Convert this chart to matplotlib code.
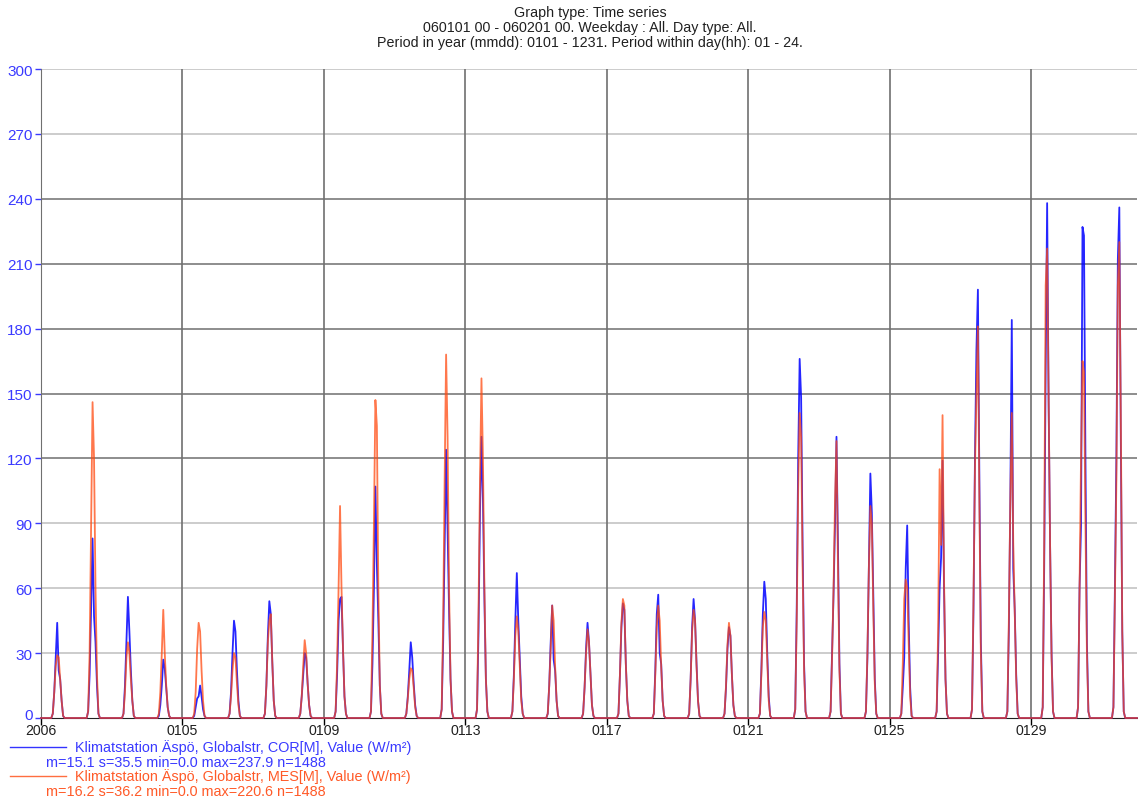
import numpy as np
import matplotlib
matplotlib.use('Agg')
import matplotlib.pyplot as plt
import matplotlib.transforms as mtransforms
from matplotlib.lines import Line2D

plt.rcParams['font.family'] = ['Liberation Sans', 'DejaVu Sans']

# ------------------------------------------------------------
# Data: hourly values for hours 08..15 of each day (night = 0)
# ------------------------------------------------------------
day_hours = [8, 9, 10, 11, 12, 13, 14, 15]

cor_day = [
    [2, 12, 28, 44, 22, 18, 8, 1],
    [3, 20, 50, 83, 47, 35, 15, 2],
    [2, 15, 35, 56, 40, 22, 8, 1],
    [1, 6, 15, 27, 23, 14, 5, 1],
    [1, 5, 9, 10, 15, 10, 4, 1],
    [2, 12, 30, 45, 40, 22, 8, 1],
    [2, 15, 38, 54, 48, 26, 8, 1],
    [2, 10, 20, 30, 28, 16, 6, 1],
    [3, 20, 45, 55, 56, 32, 10, 2],
    [3, 25, 60, 107, 71, 45, 15, 2],
    [2, 10, 22, 35, 28, 16, 6, 1],
    [4, 35, 80, 124, 87, 50, 18, 3],
    [4, 40, 95, 130, 101, 55, 18, 3],
    [3, 20, 45, 67, 45, 28, 10, 2],
    [2, 15, 35, 52, 27, 22, 8, 1],
    [2, 14, 32, 44, 35, 20, 6, 1],
    [2, 20, 42, 53, 50, 25, 8, 1],
    [2, 22, 48, 57, 30, 25, 8, 1],
    [2, 18, 42, 55, 45, 25, 8, 1],
    [2, 14, 32, 42, 38, 20, 6, 1],
    [2, 22, 48, 63, 55, 30, 10, 1],
    [4, 50, 120, 166, 148, 80, 25, 3],
    [3, 30, 57, 90, 130, 80, 25, 2],
    [3, 28, 70, 113, 95, 55, 18, 2],
    [2, 14, 28, 69, 89, 45, 14, 1],
    [3, 30, 60, 74, 119, 60, 18, 2],
    [4, 50, 120, 170, 198, 110, 35, 3],
    [3, 40, 100, 184, 69, 50, 20, 2],
    [5, 70, 162, 238, 146, 80, 30, 3],
    [5, 60, 89, 227, 223, 120, 35, 3],
    [5, 60, 120, 212, 236, 130, 40, 3],
]

mes_day = [
    [2, 12, 24, 29, 28, 18, 8, 1],
    [3, 30, 90, 146, 120, 60, 20, 2],
    [2, 12, 28, 35, 30, 18, 8, 1],
    [2, 12, 30, 50, 30, 15, 5, 1],
    [2, 12, 32, 44, 40, 22, 8, 1],
    [2, 10, 22, 30, 28, 16, 6, 1],
    [2, 15, 35, 45, 48, 26, 8, 1],
    [2, 10, 24, 36, 30, 16, 6, 1],
    [3, 25, 60, 98, 60, 32, 10, 2],
    [3, 40, 90, 147, 135, 60, 15, 2],
    [2, 9, 18, 23, 22, 14, 5, 1],
    [4, 45, 110, 168, 130, 60, 18, 3],
    [4, 50, 110, 157, 120, 60, 18, 3],
    [3, 18, 38, 47, 40, 24, 8, 2],
    [2, 15, 32, 52, 45, 24, 8, 1],
    [2, 14, 30, 41, 35, 20, 6, 1],
    [2, 20, 44, 55, 52, 25, 8, 1],
    [2, 20, 42, 52, 45, 24, 8, 1],
    [2, 18, 40, 50, 45, 24, 8, 1],
    [2, 15, 34, 44, 38, 20, 6, 1],
    [2, 20, 42, 49, 45, 26, 8, 1],
    [4, 45, 105, 141, 130, 70, 22, 3],
    [3, 28, 60, 100, 128, 70, 22, 2],
    [3, 30, 70, 98, 90, 50, 16, 2],
    [2, 25, 55, 64, 60, 35, 10, 1],
    [3, 40, 115, 80, 140, 65, 18, 2],
    [4, 55, 115, 150, 181, 100, 30, 3],
    [3, 45, 100, 141, 80, 50, 18, 2],
    [5, 80, 200, 217, 150, 80, 28, 3],
    [5, 60, 120, 165, 160, 90, 30, 3],
    [5, 55, 110, 200, 220, 140, 40, 3],
]

tick_days = [0, 4, 8, 12, 16, 20, 24, 28]
tick_labels = ['2006', '0105', '0109', '0113', '0117', '0121', '0125', '0129']
y_ticks = list(range(0, 301, 30))

title_lines = ['Graph type: Time series',
               '060101 00 - 060201 00. Weekday : All. Day type: All.',
               'Period in year (mmdd): 0101 - 1231. Period within day(hh): 01 - 24.']
cor_name = 'Klimatstation Äspö, Globalstr, COR[M], Value (W/m²)'
cor_stats = 'm=15.1 s=35.5 min=0.0 max=237.9 n=1488'
mes_name = 'Klimatstation Äspö, Globalstr, MES[M], Value (W/m²)'
mes_stats = 'm=16.2 s=36.2 min=0.0 max=220.6 n=1488'

n_days = len(cor_day)
hours = np.arange(n_days * 24 + 1)
cor = np.zeros(len(hours))
mes = np.zeros(len(hours))
for d in range(n_days):
    for k, h in enumerate(day_hours):
        cor[d * 24 + h] = cor_day[d][k]
        mes[d * 24 + h] = mes_day[d][k]

BLUE = '#0000ff'
ORANGE = '#ff4a10'
TXT_BLUE = '#3a3aff'
TXT_ORANGE = '#ff5a28'

# ------------------------------------------------------------
# Plot
# ------------------------------------------------------------
W, H = 1138, 803
fig = plt.figure(figsize=(W / 100, H / 100), dpi=100)
ax = fig.add_axes([41 / W, 1 - 719 / H, 1096 / W, 649 / H])

# grid
for v in y_ticks[1:]:
    c = '#7a7a7a' if 120 <= v <= 240 else '#c4c4c4'
    ax.axhline(v, color=c, linewidth=1.2, zorder=1)
for d in tick_days[1:]:
    ax.axvline(d * 24, color='#707070', linewidth=1.2, zorder=1)

ax.plot(hours, cor, color=BLUE, linewidth=1.3, alpha=0.85, zorder=3, clip_on=False)
ax.plot(hours, mes, color=ORANGE, linewidth=1.3, alpha=0.75, zorder=4, clip_on=False)

ax.set_xlim(0, n_days * 24)
ax.set_ylim(0, 300)

ax.set_xticks([d * 24 for d in tick_days])
ax.set_xticklabels(tick_labels)
ax.set_yticks(y_ticks)
ax.tick_params(axis='x', direction='out', length=5, width=1, color='black',
               labelsize=10.2, labelcolor='#202020', pad=-1.5)
ax.tick_params(axis='y', direction='out', length=4, width=1, color=TXT_BLUE,
               labelsize=11, labelcolor=TXT_BLUE, pad=2)

# lift the "0" label a little so it clears "2006"
zero_lbl = ax.get_yticklabels()[0]
zero_lbl.set_transform(zero_lbl.get_transform() +
                       mtransforms.ScaledTranslation(0, 4 / 100, fig.dpi_scale_trans))

for s in ['top', 'right']:
    ax.spines[s].set_visible(False)
ax.spines['left'].set_color('#707070')
ax.spines['bottom'].set_color('#202020')
ax.spines['left'].set_zorder(2)

# title
for i, line in enumerate(title_lines):
    fig.text(590 / W, 1 - (13 + 15 * i) / H, line, ha='center', va='center',
             fontsize=10.3, color='#202020')

# legend
def legend_row(y_px, color, txt_color, name, stats):
    fig.add_artist(Line2D([10 / W, 66 / W], [1 - y_px / H, 1 - y_px / H],
                          color=color, linewidth=1.0, alpha=0.8))
    fig.text(75 / W, 1 - y_px / H, name, ha='left', va='center',
             fontsize=10.4, color=txt_color)
    fig.text(46 / W, 1 - (y_px + 15) / H, stats, ha='left', va='center',
             fontsize=10.4, color=txt_color)

legend_row(748, BLUE, TXT_BLUE, cor_name, cor_stats)
legend_row(777, ORANGE, TXT_ORANGE, mes_name, mes_stats)

fig.savefig('out.png', dpi=100)
